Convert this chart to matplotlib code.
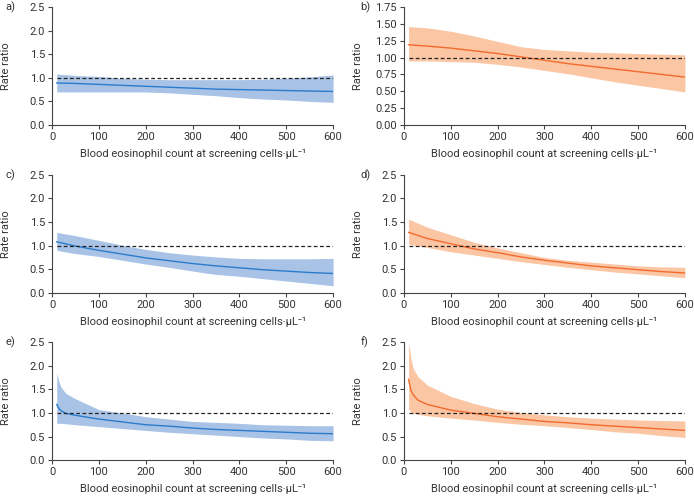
import numpy as np
import matplotlib.pyplot as plt

plt.rcParams['font.family'] = ['Roboto', 'DejaVu Sans']
plt.rcParams['font.size'] = 8

# x positions where the curves were read
x_ab = [10, 50, 100, 150, 200, 250, 300, 350, 400, 450, 500, 550, 600]
x_cd = [10, 50, 100, 150, 200, 250, 300, 350, 400, 450, 500, 550, 600]
x_ef = [10, 15, 20, 30, 50, 100, 150, 200, 250, 300, 350, 400, 450, 500, 550, 600]

# panel a (blue)
a_mid = [0.89, 0.88, 0.86, 0.84, 0.82, 0.80, 0.78, 0.76, 0.75, 0.74, 0.73, 0.72, 0.71]
a_lo = [0.70, 0.70, 0.70, 0.70, 0.70, 0.68, 0.65, 0.62, 0.58, 0.55, 0.53, 0.50, 0.48]
a_hi = [1.08, 1.05, 1.03, 0.99, 0.97, 0.96, 0.96, 0.96, 0.96, 0.97, 0.99, 1.02, 1.06]

# panel b (orange)
b_mid = [1.19, 1.17, 1.14, 1.10, 1.06, 1.01, 0.96, 0.91, 0.87, 0.83, 0.79, 0.75, 0.71]
b_lo = [0.95, 0.95, 0.94, 0.93, 0.90, 0.86, 0.81, 0.76, 0.70, 0.64, 0.59, 0.54, 0.49]
b_hi = [1.46, 1.44, 1.39, 1.32, 1.24, 1.16, 1.12, 1.10, 1.08, 1.07, 1.06, 1.05, 1.04]

# panel c (blue)
c_mid = [1.08, 0.99, 0.90, 0.82, 0.74, 0.68, 0.62, 0.57, 0.53, 0.49, 0.46, 0.43, 0.41]
c_lo = [0.90, 0.83, 0.77, 0.69, 0.61, 0.54, 0.46, 0.39, 0.35, 0.30, 0.25, 0.20, 0.15]
c_hi = [1.28, 1.21, 1.11, 1.01, 0.92, 0.85, 0.80, 0.76, 0.73, 0.72, 0.72, 0.72, 0.73]

# panel d (orange)
d_mid = [1.28, 1.15, 1.04, 0.93, 0.85, 0.76, 0.69, 0.63, 0.57, 0.53, 0.49, 0.45, 0.42]
d_lo = [1.03, 0.96, 0.87, 0.80, 0.73, 0.66, 0.60, 0.54, 0.49, 0.44, 0.40, 0.36, 0.32]
d_hi = [1.56, 1.39, 1.23, 1.07, 0.95, 0.85, 0.75, 0.69, 0.65, 0.61, 0.57, 0.55, 0.54]

# panel e (blue)
e_mid = [1.18, 1.09, 1.04, 0.99, 0.95, 0.87, 0.81, 0.75, 0.72, 0.68, 0.65, 0.63, 0.61, 0.59, 0.57, 0.56]
e_lo = [0.78, 0.78, 0.78, 0.77, 0.75, 0.71, 0.67, 0.63, 0.59, 0.56, 0.53, 0.50, 0.47, 0.45, 0.42, 0.41]
e_hi = [1.84, 1.65, 1.53, 1.41, 1.30, 1.07, 1.00, 0.92, 0.87, 0.82, 0.80, 0.78, 0.75, 0.74, 0.73, 0.73]

# panel f (orange)
f_mid = [1.71, 1.48, 1.38, 1.27, 1.18, 1.06, 0.99, 0.92, 0.87, 0.82, 0.79, 0.75, 0.72, 0.69, 0.66, 0.63]
f_lo = [1.08, 1.02, 0.99, 0.97, 0.94, 0.89, 0.85, 0.80, 0.76, 0.73, 0.69, 0.65, 0.60, 0.57, 0.52, 0.48]
f_hi = [2.49, 2.15, 1.94, 1.77, 1.59, 1.35, 1.20, 1.08, 1.01, 0.96, 0.92, 0.89, 0.87, 0.85, 0.84, 0.83]

blue_line, blue_fill = '#2a7ccc', '#a9c3e6'
orange_line, orange_fill = '#f26a2e', '#fbc6a4'

panels = [
    ('a)', x_ab, a_mid, a_lo, a_hi, blue_line, blue_fill, 'half'),
    ('b)', x_ab, b_mid, b_lo, b_hi, orange_line, orange_fill, 'quarter'),
    ('c)', x_cd, c_mid, c_lo, c_hi, blue_line, blue_fill, 'half'),
    ('d)', x_cd, d_mid, d_lo, d_hi, orange_line, orange_fill, 'half'),
    ('e)', x_ef, e_mid, e_lo, e_hi, blue_line, blue_fill, 'half'),
    ('f)', x_ef, f_mid, f_lo, f_hi, orange_line, orange_fill, 'half'),
]

fig = plt.figure(figsize=(6.94, 4.98), dpi=100)
lefts = [0.075, 0.582]
bottoms = [0.749, 0.412, 0.076]
w, h = 0.405, 0.237
text_col = '#333333'

for i, (lab, xs, mid, lo, hi, lc, fc, ystep) in enumerate(panels):
    ax = fig.add_axes([lefts[i % 2], bottoms[i // 2], w, h])
    ax.fill_between(xs, lo, hi, color=fc, linewidth=0)
    ax.plot(xs, mid, color=lc, lw=1)
    ax.hlines(1.0, 10, 600, colors='#222222', linestyles=(0, (3, 2)), lw=0.9)
    ax.set_xlim(0, 600)
    if ystep == 'quarter':
        yt = np.arange(0, 1.76, 0.25)
        ax.set_ylim(0, 1.75)
        ax.set_yticks(yt)
        ax.set_yticklabels([f'{v:.2f}' for v in yt])
    else:
        yt = np.arange(0, 2.51, 0.5)
        ax.set_ylim(0, 2.5)
        ax.set_yticks(yt)
        ax.set_yticklabels([f'{v:.1f}' for v in yt])
    ax.set_xticks(range(0, 601, 100))
    for s in ['top', 'right']:
        ax.spines[s].set_visible(False)
    for s in ['left', 'bottom']:
        ax.spines[s].set_color('#444444')
        ax.spines[s].set_linewidth(0.8)
    ax.tick_params(colors='#444444', labelcolor=text_col, length=3, width=0.8, pad=2)
    ax.set_ylabel('Rate ratio', color=text_col)
    ax.yaxis.set_label_coords(-0.145, 0.5)
    ax.set_xlabel('Blood eosinophil count at screening cells·µL⁻¹', color=text_col, labelpad=5)
    ax.text(-0.165 if i % 2 == 0 else -0.155, 1.0, lab, transform=ax.transAxes,
            ha='left', va='center', color=text_col)

fig.savefig('out.png', dpi=100)
